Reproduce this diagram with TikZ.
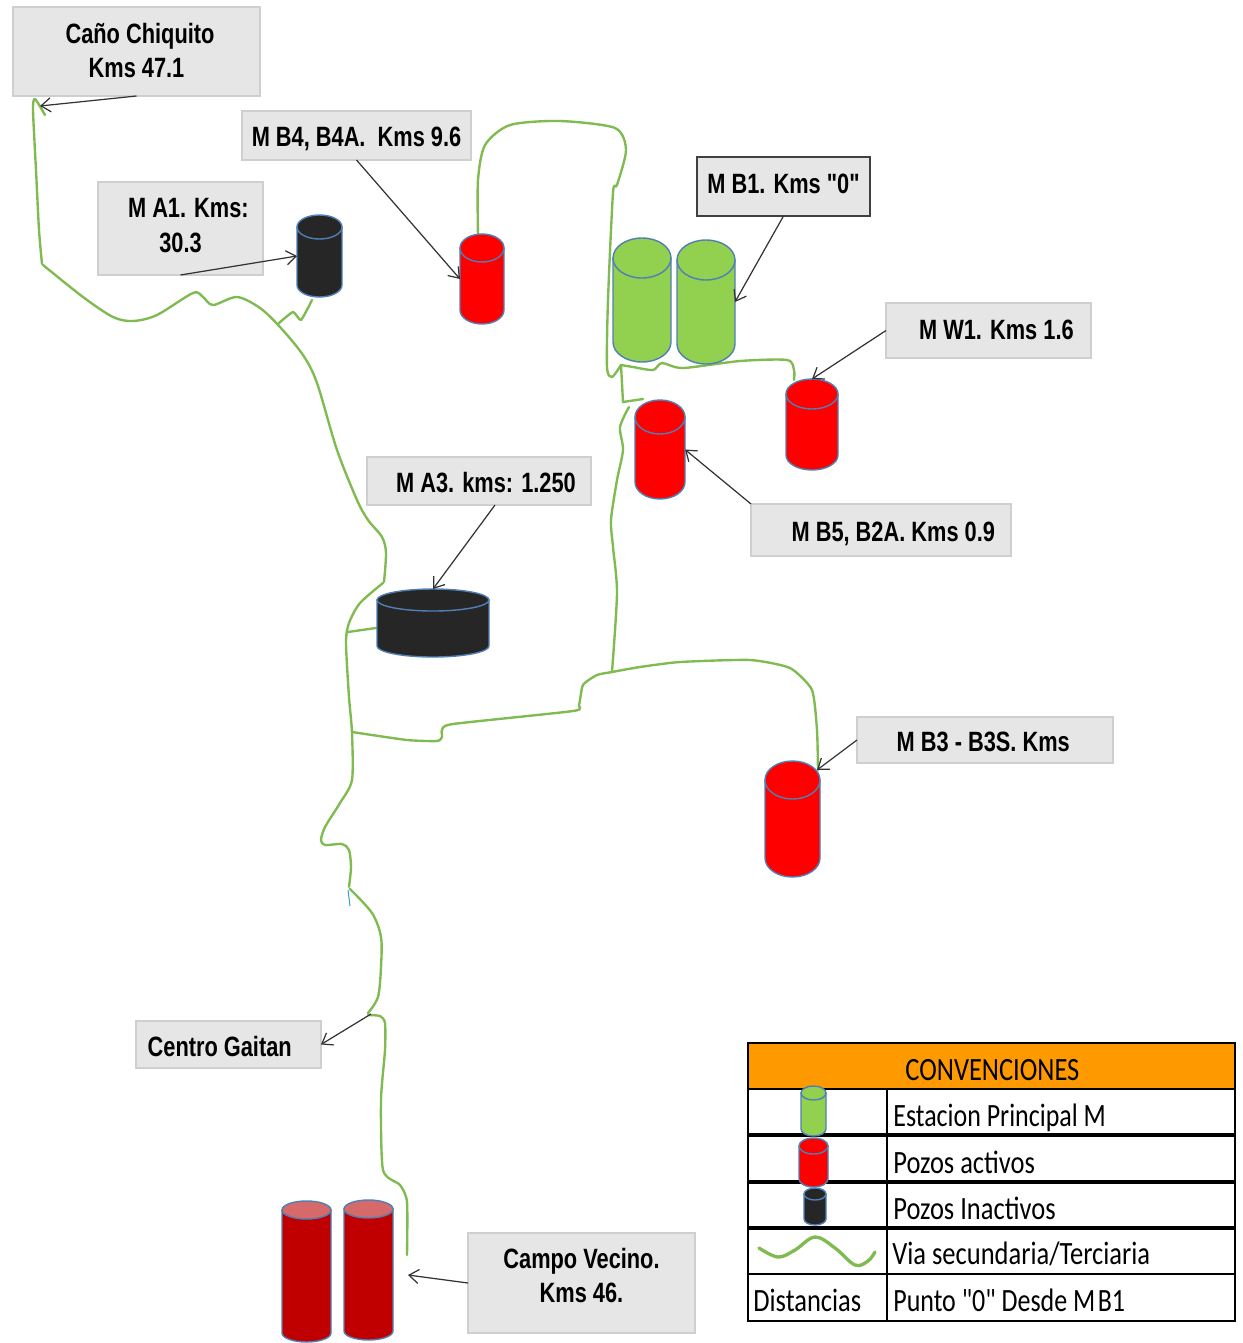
\documentclass[tikz,border=0pt]{standalone}
\usepackage{fontspec}
\usepackage{graphicx}
\usetikzlibrary{arrows.meta}
\newfontfamily\lblfont[FakeStretch=0.78]{Liberation Sans}
\newfontfamily\legfont[FakeStretch=0.815]{Carlito}
\definecolor{road}{HTML}{7FBB50}
\definecolor{cylline}{HTML}{4F7FB5}
\definecolor{gfill}{HTML}{92D050}
\definecolor{rfill}{HTML}{FF0000}
\definecolor{kfill}{HTML}{262626}
\definecolor{dfill}{HTML}{C00000}
\definecolor{dtop}{HTML}{D66A6A}
\definecolor{lfill}{HTML}{E6E6E6}
\definecolor{lline}{HTML}{CFCFCF}
\definecolor{orangehead}{HTML}{FF9900}
\tikzset{
  lbl/.style={draw=lline,fill=lfill,line width=0.9pt,inner sep=0pt,outer sep=0pt,align=center,
     font=\lblfont\bfseries\fontsize{15.9}{19.8}\selectfont,text=black},
  lblstrong/.style={lbl,draw=black!75,line width=1.1pt},
  ptr/.style={draw=black!80,line width=0.7pt,-{Straight Barb[length=5.5pt,width=8pt]}},
  roadline/.style={draw=road,line width=1.35pt,line cap=round,line join=round},
  cylnode/.style={inner sep=0pt,outer sep=0pt},
  celltext/.style={anchor=west,inner sep=0pt,font=\legfont\fontsize{18.5}{20}\selectfont},
  thinrule/.style={draw=black,line width=0.8pt},
  thickrule/.style={draw=black,line width=2pt},
}
\newcommand\lblone[2]{\raisebox{#1}[0pt][0pt]{#2}}
\newcommand\lbltwo[3]{\raisebox{#1}[0pt][0pt]{\begin{tabular}[t]{@{}c@{}}#2\\#3\end{tabular}}}
% name, x1, x2, y1, y2, ry, body fill, top fill
\newcommand\mycyl[8]{%
  \pgfmathsetmacro\cyXm{(#2+#3)/2}%
  \pgfmathsetmacro\cyYm{(#4+#5)/2}%
  \pgfmathsetmacro\cyRx{(#3-#2)/2}%
  \pgfmathsetmacro\cyK{0.5523*\cyRx}%
  \pgfmathsetmacro\cyTa{#4+#6}%
  \pgfmathsetmacro\cyBa{#5-#6}%
  \pgfmathsetmacro\cyBb{#5-#6+0.5523*#6}%
  \pgfmathsetmacro\cyCl{\cyXm-\cyK}%
  \pgfmathsetmacro\cyCr{\cyXm+\cyK}%
  \node[cylnode,minimum width={(#3-#2)*0.02cm},minimum height={(#5-#4)*0.02cm}] (#1) at (\cyXm,\cyYm) {};
  \draw[draw=cylline,line width=0.8pt,fill=#7] (#2,\cyTa) -- (#2,\cyBa)
     .. controls (#2,\cyBb) and (\cyCl,#5) .. (\cyXm,#5)
     .. controls (\cyCr,#5) and (#3,\cyBb) .. (#3,\cyBa) -- (#3,\cyTa) -- cycle;
  \draw[draw=cylline,line width=0.8pt,fill=#8] (\cyXm,\cyTa) ellipse [x radius=\cyRx,y radius=#6];
}
\begin{document}
\begin{tikzpicture}[x=0.02cm,y=-0.02cm]
\useasboundingbox (0,0) rectangle (1243,1343);

% roads
\draw[roadline] plot[smooth,tension=0.4] coordinates {(45,115) (35,99) (33,110) (36,170) (39,230) (42,264)};
\draw[roadline] plot[smooth,tension=0.5] coordinates {(43,265) (83,297) (113,317) (133,321) (157,315) (193,293) (203,297) (213,305) (237,297) (260,308) (280,327) (303,355) (317,383) (337,450) (357,500) (368,520) (382,537) (386,553) (384,582)};
\draw[roadline] plot[smooth,tension=0.45] coordinates {(383,583) (360,603) (349,623) (346,643) (349,697) (352,733) (352,780) (340,803) (325,827) (321,840) (325,845) (342,844) (349,850) (351,867) (349,887)};
\draw[roadline] plot[smooth,tension=0.5] coordinates {(350,889) (372,913) (381,937) (381,967) (378,997) (368,1013)};
\draw[roadline] plot[smooth,tension=0.4] coordinates {(368,1015) (380,1016) (385,1023) (385,1050) (381,1100) (383,1170) (400,1185) (407,1202) (407,1255)};
\draw[draw=cylline!70!cyan,line width=0.6pt] (348,890) -- (350,906);
\draw[roadline] plot[smooth,tension=0.3] coordinates {(279,323) (293,312) (301,320) (312,300)};
\draw[roadline] (348,632) -- (383,627);
\draw[roadline] plot[smooth,tension=0.35] coordinates {(352,732) (407,740) (437,741) (442,737) (442,730) (453,724) (573,711) (579,705) (583,685) (597,675) (612,672) (640,667) (680,662) (750,660) (790,668) (812,690) (817,730) (818,770)};
\draw[roadline] plot[smooth,tension=0.45] coordinates {(612,672) (617,593) (613,547) (611,520) (617,480) (623,450) (620,427) (629,407)};
\draw[roadline] (643,399) -- (623,402) -- (621,365);
\draw[roadline] plot[smooth,tension=0.45] coordinates {(621,365) (633,367) (653,370) (662,363) (683,368) (740,361) (787,360) (794,370) (794,380)};
\draw[roadline] plot[smooth,tension=0.45] coordinates {(621,365) (612,377) (607,367) (608,300) (613,193) (617,185) (626,150) (615,128) (560,121) (510,125) (485,145) (478,180) (478,235)};

% cylinders
\mycyl{cylA}{297}{342}{215}{297}{12}{kfill}{kfill}
\mycyl{cylB}{460}{504}{234}{324}{14}{rfill}{rfill}
\mycyl{cylC}{613}{671}{238}{362}{20}{gfill}{gfill}
\mycyl{cylD}{677}{735}{240}{364}{20}{gfill}{gfill}
\mycyl{cylW}{786}{838}{379}{470}{15}{rfill}{rfill}
\mycyl{cylF}{635}{685}{400}{499}{17}{rfill}{rfill}
\mycyl{cylT}{377}{489}{589}{657}{11}{kfill}{kfill}
\mycyl{cylH}{765}{820}{761}{877}{19}{rfill}{rfill}
\mycyl{cylP}{282}{331}{1201}{1342}{9}{dfill}{dtop}
\mycyl{cylQ}{344}{393}{1200}{1340}{9}{dfill}{dtop}

% labels
\node[lbl,minimum width=4.94cm,minimum height=1.78cm] (lcano) at (136.5,51.5) {\lbltwo{4.8pt}{\hspace*{4pt}Caño Chiquito}{Kms 47.1}};
\node[lbl,minimum width=4.58cm,minimum height=0.98cm] (lbf) at (356.5,135.5) {\lblone{-6.5pt}{M B4, B4A.\ \ Kms 9.6}};
\node[lbl,minimum width=3.30cm,minimum height=1.86cm] (lae) at (180.5,228.5) {\lbltwo{6pt}{\hspace*{9pt}M A1. Kms:}{30.3}};
\node[lblstrong,minimum width=3.46cm,minimum height=1.18cm] (lbo) at (783.5,186.5) {\lblone{-3.7pt}{M B1. Kms "0"}};
\node[lbl,minimum width=4.10cm,minimum height=1.10cm] (lw) at (988.5,330.5) {\lblone{-5.4pt}{\hspace*{9pt}M W1. Kms 1.6}};
\node[lbl,minimum width=5.20cm,minimum height=1.04cm] (lbv) at (881,530) {\lblone{-6.3pt}{\hspace*{14pt}M B5, B2A. Kms 0.9}};
\node[lbl,minimum width=4.48cm,minimum height=0.96cm] (lat) at (479,481) {\lblone{-6.8pt}{\hspace*{8pt}M A3. kms: 1.250}};
\node[lbl,minimum width=5.12cm,minimum height=0.92cm] (lbt) at (985,740) {\lblone{-6.8pt}{M B3 - B3S. Kms\hspace*{2pt}}};
\node[lbl,minimum width=3.70cm,minimum height=0.94cm] (lcg) at (228.5,1044.5) {\lblone{-7.1pt}{Centro Gaitan\hspace*{10pt}}};
\node[lbl,minimum width=4.54cm,minimum height=2.00cm] (lcv) at (581.5,1283) {\lbltwo{8.5pt}{Campo Vecino.}{Kms 46.}};

% free ends of pointers
\coordinate (endcano) at (40,106);
\coordinate (startcg) at (371,1014);
\coordinate (endcv) at (408,1275);
\coordinate (endh) at (817,770);
\coordinate (startat) at (495,505);

% pointers
\draw[ptr] (lcano.south) -- (endcano);
\draw[ptr] (lae.south) -- (cylA.west);
\draw[ptr] (lbf.south) -- (cylB.west);
\draw[ptr] (lbo.south) -- (cylD.east);
\draw[ptr] (lw.west) -- (cylW.north);
\draw[ptr] (lbv.north west) -- (cylF.east);
\draw[ptr] (startat) -- (cylT.north);
\draw[ptr] (lbt.west) -- (endh);
\draw[ptr] (startcg) -- (lcg.east);
\draw[ptr] (lcv.west) -- (endcv);

% legend
\node[draw=black,line width=0.9pt,fill=orangehead,minimum width=9.74cm,minimum height=0.92cm,inner sep=0pt,font=\legfont\fontsize{18.5}{20}\selectfont] (lhead) at (991.5,1066) {\raisebox{-8.3pt}[0pt][0pt]{\hspace*{1pt}CONVENCIONES}};
\node[draw=black,line width=0.9pt,minimum width=9.74cm,minimum height=4.64cm,inner sep=0pt] (lbody) at (991.5,1205) {};
\coordinate (ca) at (748,1135); \coordinate (cb) at (1235,1135);
\coordinate (cc) at (748,1182); \coordinate (cd) at (1235,1182);
\coordinate (ce) at (748,1228); \coordinate (cf) at (1235,1228);
\coordinate (cg) at (748,1274); \coordinate (ch) at (1235,1274);
\coordinate (ci) at (887,1089); \coordinate (cj) at (887,1321);
\draw[thickrule] (ca) -- (cb);
\draw[thickrule] (cc) -- (cd);
\draw[thickrule] (ce) -- (cf);
\draw[thinrule] (cg) -- (ch);
\draw[thinrule] (ci) -- (cj);
\mycyl{keyG}{801}{826}{1086}{1136}{7}{gfill}{gfill}
\mycyl{keyR}{799}{828}{1138}{1187}{8}{rfill}{rfill}
\mycyl{keyK}{804}{826}{1188}{1225}{6}{kfill}{kfill}
\draw[draw=road,line width=1.9pt,line cap=round] plot[smooth,tension=0.6] coordinates {(759,1248) (778,1257) (795,1250) (815,1237) (835,1248) (855,1265) (868,1261) (875,1252)};
\node[celltext] (t1) at (893,1118) {\scalebox{0.98}[1]{Estacion Principal M}};
\node[celltext] (t2) at (893,1162) {Pozos activos};
\node[celltext] (t3) at (893,1208) {Pozos Inactivos};
\node[celltext] (t4) at (892,1254) {Via secundaria/Terciaria};
\node[celltext] (t5) at (893,1300) {\scalebox{0.98}[1]{Punto "0" Desde M\hspace{1.5pt}B1}};
\node[celltext] (t6) at (753,1300) {Distancias};
\end{tikzpicture}
\end{document}
